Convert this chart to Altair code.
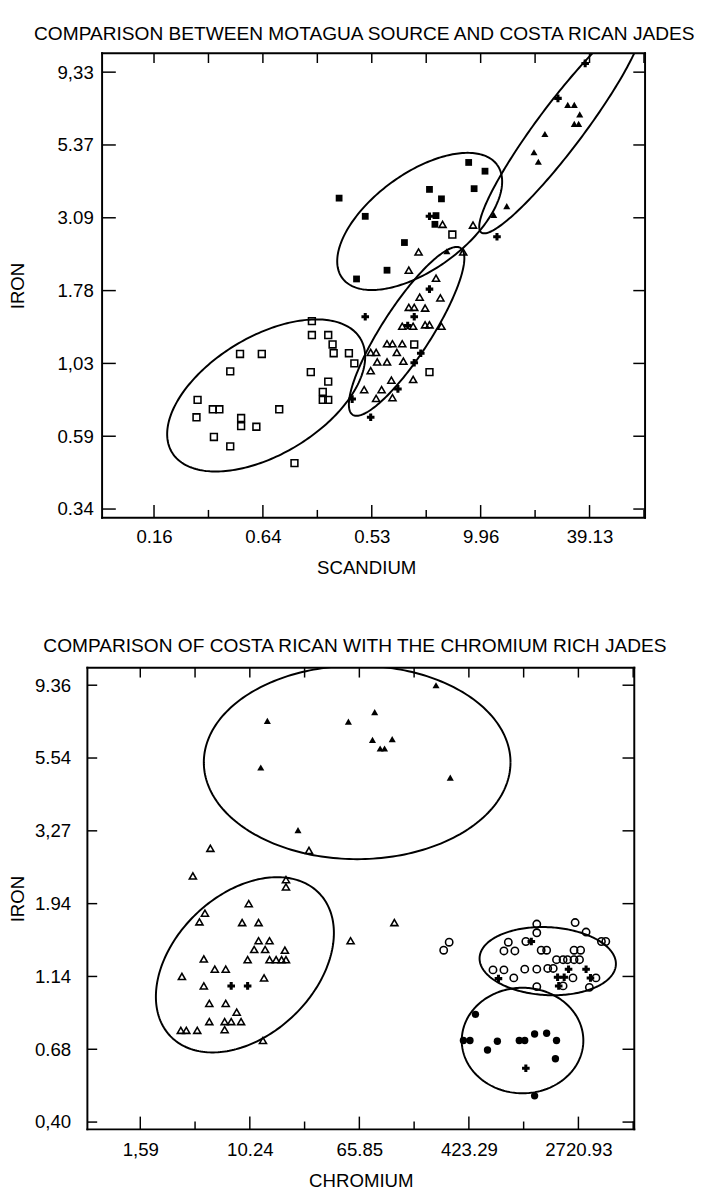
import json
import numpy as np
import pandas as pd
import altair as alt

FONT = "Liberation Sans"

# ---------------------------------------------------------------
# Values are given in tick steps of the printed log axes
# (0 = first labelled tick, 1 = second labelled tick, ...)
# ---------------------------------------------------------------

# ---------------- Panel 1 ----------------
P1_TITLE = "COMPARISON BETWEEN MOTAGUA SOURCE AND COSTA RICAN JADES"
P1_X_TITLE = "SCANDIUM"
P1_Y_TITLE = "IRON"
P1_X_LABELS = ["0.16", "0.64", "0.53", "9.96", "39.13"]
P1_Y_LABELS = ["0.34", "0.59", "1,03", "1.78", "3.09", "5.37", "9,33"]

P1_FSQ_X = [1.70, 1.94, 2.14, 1.86, 2.30, 2.53, 2.64, 2.89, 3.04, 2.94, 2.59, 2.58]
P1_FSQ_Y = [4.27, 4.02, 3.28, 3.16, 3.66, 4.39, 4.26, 4.76, 4.64, 4.40, 4.03, 3.91]

P1_OSQ_X = [1.45, 1.45, 1.60, 1.64, 1.65, 1.79, 1.84, 0.79, 0.99, 0.70, 1.44, 1.60, 1.55, 1.55, 1.60,
            0.40, 0.54, 0.60, 1.15, 0.39, 0.80, 0.80, 0.94, 0.55, 0.70, 1.29, 2.74, 2.39, 2.53]
P1_OSQ_Y = [2.58, 2.39, 2.39, 2.26, 2.14, 2.14, 2.00, 2.13, 2.13, 1.89, 1.88, 1.75, 1.61, 1.50, 1.50,
            1.50, 1.37, 1.37, 1.37, 1.26, 1.25, 1.14, 1.13, 0.99, 0.86, 0.63, 3.77, 2.26, 1.88]

P1_OTRI_X = [2.65, 2.93, 2.43, 2.34, 2.84, 2.59, 2.44, 2.63, 2.34, 2.39, 2.49, 2.28, 2.38, 2.49, 2.53, 2.64,
             2.14, 2.19, 2.28, 1.99, 2.04, 2.23, 2.05, 2.14, 2.29, 1.99, 2.18, 2.38, 1.93, 2.09, 2.04, 2.19]
P1_OTRI_Y = [3.91, 3.90, 3.53, 3.28, 3.53, 3.17, 2.91, 2.90, 2.77, 2.77, 2.76, 2.51, 2.51, 2.53, 2.53, 2.51,
             2.27, 2.27, 2.27, 2.15, 2.15, 2.15, 2.02, 2.02, 2.03, 1.90, 1.77, 1.78, 1.64, 1.64, 1.52, 1.53]

P1_FTRI_X = [2.69, 3.12, 3.24, 3.49, 3.53, 3.59, 3.80, 3.86, 3.91, 3.86, 3.90]
P1_FTRI_Y = [3.54, 4.04, 4.16, 4.90, 4.77, 5.15, 5.55, 5.55, 5.42, 5.29, 5.29]

P1_PLUS_X = [2.53, 2.53, 3.15, 3.71, 3.96, 1.94, 2.39, 2.45, 2.39, 2.24, 1.82, 1.99, 2.33]
P1_PLUS_Y = [4.02, 3.02, 3.74, 5.64, 6.12, 2.64, 2.64, 2.14, 2.01, 1.65, 1.51, 1.26, 2.52]

# ellipses: centre, semi-axes (in x-step lengths), tilt in degrees
P1_ELL_CX = [1.03, 2.44, 2.32, 3.74]
P1_ELL_CY = [1.56, 3.95, 2.44, 5.26]
P1_ELL_A = [1.01, 0.88, 0.91, 1.22]
P1_ELL_B = [0.54, 0.44, 0.225, 0.21]
P1_ELL_ANG = [31, 36, 57, 53]

# ---------------- Panel 2 ----------------
P2_TITLE = "COMPARISON OF COSTA RICAN WITH THE CHROMIUM RICH JADES"
P2_X_TITLE = "CHROMIUM"
P2_Y_TITLE = "IRON"
P2_X_LABELS = ["1,59", "10.24", "65.85", "423.29", "2720.93"]
P2_Y_LABELS = ["0,40", "0.68", "1.14", "1.94", "3,27", "5.54", "9.36"]

P2_FTRI_X = [1.16, 1.90, 2.14, 2.12, 2.19, 2.23, 2.30, 2.70, 2.83, 1.10, 1.44]
P2_FTRI_Y = [5.51, 5.50, 5.63, 5.25, 5.13, 5.13, 5.26, 6.00, 4.73, 4.87, 4.01]

P2_OTRI_X = [0.64, 1.54, 0.48, 1.33, 1.33, 0.99, 0.59, 0.54, 0.93, 1.08, 1.08, 1.18, 1.04, 1.14, 1.32,
             0.58, 0.98, 1.18, 1.24, 1.29, 1.33, 0.68, 0.78, 0.38, 1.13, 0.58, 0.63, 0.78, 0.88, 0.63,
             0.77, 0.83, 0.92, 0.37, 0.42, 0.52, 0.77, 1.12, 1.92, 2.32]
P2_OTRI_Y = [3.76, 3.73, 3.38, 3.33, 3.23, 3.00, 2.87, 2.75, 2.74, 2.74, 2.49, 2.49, 2.37, 2.37, 2.36,
             2.24, 2.23, 2.23, 2.23, 2.23, 2.23, 2.10, 2.10, 2.00, 1.98, 1.87, 1.63, 1.63, 1.51, 1.38,
             1.38, 1.38, 1.38, 1.26, 1.26, 1.26, 1.27, 1.12, 2.49, 2.74]

P2_PLUS_X = [0.83, 0.98, 3.57, 3.91, 4.07, 3.27, 3.81, 3.87, 4.11, 3.82, 3.52]
P2_PLUS_Y = [1.87, 1.87, 2.48, 2.10, 2.10, 1.97, 1.99, 1.99, 1.98, 1.87, 0.74]

P2_OCIR_X = [2.82, 2.77, 3.62, 3.62, 3.97, 4.07, 4.21, 4.25, 3.36, 3.52, 3.32, 3.42, 3.66, 3.71, 3.96,
             4.02, 3.80, 3.86, 3.90, 3.96, 4.01, 3.22, 3.32, 3.51, 3.62, 3.72, 3.77, 3.41, 3.95, 4.16,
             3.62, 3.86, 4.10]
P2_OCIR_Y = [2.47, 2.36, 2.72, 2.60, 2.74, 2.61, 2.48, 2.48, 2.47, 2.48, 2.35, 2.35, 2.36, 2.36, 2.36,
             2.36, 2.23, 2.23, 2.23, 2.23, 2.23, 2.09, 2.09, 2.10, 2.10, 2.11, 2.11, 1.98, 1.98, 1.98,
             1.86, 1.87, 1.85]

P2_FCIR_X = [3.06, 2.95, 3.01, 3.17, 3.26, 3.46, 3.51, 3.60, 3.71, 3.80, 3.79, 3.60]
P2_FCIR_Y = [1.48, 1.12, 1.12, 0.99, 1.11, 1.12, 1.12, 1.21, 1.22, 1.12, 0.87, 0.36]

P2_ELL_CX = [1.98, 0.955, 3.72, 3.49]
P2_ELL_CY = [4.94, 2.16, 2.21, 1.12]
P2_ELL_A = [1.40, 0.943, 0.623, 0.555]
P2_ELL_B = [0.886, 0.644, 0.311, 0.483]
P2_ELL_ANG = [0, 44, -3, 0]

# tick positions (in tick steps)
X_TICKS_MAJOR = [0, 1, 2, 3, 4]
X_TICKS_MINOR = [0.5, 1.5, 2.5, 3.5, 4.5]
Y_TICKS = [0, 1, 2, 3, 4, 5, 6]

KINDS = ["square", "triangle", "circle", "plus"]
SHAPES = ["square", "triangle-up", "circle", "cross"]
OPEN_SIZES = [48, 60, 34, 40]
FILL_SIZES = [52, 64, 44, 38]


def points_frame(groups):
    frames = [pd.DataFrame({"x": xs, "y": ys, "kind": k}) for k, xs, ys in groups]
    return pd.concat(frames, ignore_index=True)


def ellipse_frame(cx, cy, a, b, ang, k=1.5, n=240):
    t = np.linspace(0, 2 * np.pi, n + 1)
    frames = []
    for i, (x0, y0, aa, bb, th) in enumerate(zip(cx, cy, a, b, ang)):
        r = np.radians(th)
        dx = aa * np.cos(t) * np.cos(r) - bb * np.sin(t) * np.sin(r)
        dy = aa * np.cos(t) * np.sin(r) + bb * np.sin(t) * np.cos(r)
        frames.append(pd.DataFrame({"x": x0 + dx, "y": y0 + dy * k, "ell": i, "o": np.arange(n + 1)}))
    return pd.concat(frames, ignore_index=True)


def build_panel(title, title_dx, title_offset, xlabels, ylabels, xtitle, ytitle, ytitle_x,
                open_df, filled_df, ell_df, W, H, inset, xdom, ydom, xlab_pad, xtitle_pad,
                ylab_pad, lab_size, left_tick):
    """inset: distance (px) of the drawn left frame line from the left of the view."""
    xs = alt.Scale(domain=xdom, nice=False, zero=False)
    ys = alt.Scale(domain=ydom, nice=False, zero=False)
    xaxis = alt.Axis(values=X_TICKS_MAJOR, labelExpr=json.dumps(xlabels) + "[round(datum.value)]",
                     ticks=False, domain=False, grid=False, labelFont=FONT, labelFontSize=lab_size,
                     labelColor="black", labelPadding=xlab_pad, title=xtitle, titleFont=FONT,
                     titleFontSize=19, titleFontWeight="normal", titleColor="black",
                     titlePadding=xtitle_pad)
    yaxis = alt.Axis(values=Y_TICKS, labelExpr=json.dumps(ylabels) + "[round(datum.value)]",
                     ticks=False, domain=False, grid=False, labelFont=FONT, labelFontSize=lab_size,
                     labelColor="black", labelPadding=ylab_pad, title=ytitle, titleFont=FONT,
                     titleFontSize=19, titleFontWeight="normal", titleColor="black",
                     titleX=ytitle_x, offset=-inset)
    shape = alt.Shape("kind:N", scale=alt.Scale(domain=KINDS, range=SHAPES), legend=None)
    osize = alt.Size("kind:N", scale=alt.Scale(domain=KINDS, range=OPEN_SIZES), legend=None)
    fsize = alt.Size("kind:N", scale=alt.Scale(domain=KINDS, range=FILL_SIZES), legend=None)

    X = lambda f: alt.X(f"{f}:Q", scale=xs, axis=xaxis)
    Y = lambda f: alt.Y(f"{f}:Q", scale=ys, axis=yaxis)

    ell = alt.Chart(ell_df).mark_line(clip=True, color="black", strokeWidth=2).encode(
        x=X("x"), y=Y("y"), detail="ell:N", order="o:Q")
    opn = alt.Chart(open_df).mark_point(filled=False, color="black", strokeWidth=1.6, opacity=1).encode(
        x=X("x"), y=Y("y"), shape=shape, size=osize)
    fil = alt.Chart(filled_df).mark_point(filled=True, color="black", opacity=1).encode(
        x=X("x"), y=Y("y"), shape=shape, size=fsize)

    maj = pd.DataFrame({"x": X_TICKS_MAJOR})
    mnr = pd.DataFrame({"x": X_TICKS_MINOR})
    allx = pd.DataFrame({"x": X_TICKS_MAJOR + X_TICKS_MINOR})
    yt = pd.DataFrame({"y": Y_TICKS})
    one = pd.DataFrame({"k": [0]})
    rule = dict(color="black", strokeWidth=1.5)
    t_bmaj = alt.Chart(maj).mark_rule(**rule).encode(x=X("x"), y=alt.value(H), y2=alt.value(H - 13))
    t_bmin = alt.Chart(mnr).mark_rule(**rule).encode(x=X("x"), y=alt.value(H), y2=alt.value(H - 8))
    t_top = alt.Chart(allx).mark_rule(**rule).encode(x=X("x"), y=alt.value(0), y2=alt.value(10))
    t_left = alt.Chart(yt).mark_rule(**rule).encode(
        y=Y("y"), x=alt.value(inset), x2=alt.value(inset + left_tick))
    t_right = alt.Chart(yt).mark_rule(**rule).encode(y=Y("y"), x=alt.value(W), x2=alt.value(W - 12))

    frame = dict(color="black", strokeWidth=2, strokeCap="square")
    f_left = alt.Chart(one).mark_rule(**frame).encode(x=alt.value(inset), y=alt.value(0), y2=alt.value(H))
    f_right = alt.Chart(one).mark_rule(**frame).encode(x=alt.value(W), y=alt.value(0), y2=alt.value(H))
    f_top = alt.Chart(one).mark_rule(**frame).encode(y=alt.value(0), x=alt.value(inset), x2=alt.value(W))
    f_bot = alt.Chart(one).mark_rule(**frame).encode(y=alt.value(H), x=alt.value(inset), x2=alt.value(W))

    return alt.layer(ell, opn, fil, t_bmaj, t_bmin, t_top, t_left, t_right,
                     f_left, f_right, f_top, f_bot).properties(
        width=W, height=H,
        title=alt.TitleParams(text=title, font=FONT, fontSize=19.5, fontWeight="normal", color="black",
                              anchor="middle", frame="group", dx=title_dx, offset=title_offset),
    )


p1_open = points_frame([("square", P1_OSQ_X, P1_OSQ_Y), ("triangle", P1_OTRI_X, P1_OTRI_Y)])
p1_fill = points_frame([("square", P1_FSQ_X, P1_FSQ_Y), ("triangle", P1_FTRI_X, P1_FTRI_Y),
                        ("plus", P1_PLUS_X, P1_PLUS_Y)])
p1_ell = ellipse_frame(P1_ELL_CX, P1_ELL_CY, P1_ELL_A, P1_ELL_B, P1_ELL_ANG)

p2_open = points_frame([("triangle", P2_OTRI_X, P2_OTRI_Y), ("circle", P2_OCIR_X, P2_OCIR_Y)])
p2_fill = points_frame([("triangle", P2_FTRI_X, P2_FTRI_Y), ("circle", P2_FCIR_X, P2_FCIR_Y),
                        ("plus", P2_PLUS_X, P2_PLUS_Y)])
p2_ell = ellipse_frame(P2_ELL_CX, P2_ELL_CY, P2_ELL_A, P2_ELL_B, P2_ELL_ANG)

# upper frame sits 15 px right of the lower one, as in the printed figure
top = build_panel(P1_TITLE, -2, 8, P1_X_LABELS, P1_Y_LABELS, P1_X_TITLE, P1_Y_TITLE, -76,
                  p1_open, p1_fill, p1_ell, 569, 474, 15, [-0.612, 4.51], [-0.12, 6.26],
                  10, 13, 9, 19, 14)
bottom = build_panel(P2_TITLE, -6, 10, P2_X_LABELS, P2_Y_LABELS, P2_X_TITLE, P2_Y_TITLE, -61,
                     p2_open, p2_fill, p2_ell, 558, 471, 0, [-0.483, 4.51], [-0.10, 6.24],
                     12, 12, 17, 19, 10)

chart = alt.vconcat(top, bottom, spacing=58).configure(
    padding={"left": 0, "top": 3, "right": 0, "bottom": 0}
).configure_view(stroke="transparent")

chart.save("out.html", embed_options={"renderer": "svg", "actions": False})
